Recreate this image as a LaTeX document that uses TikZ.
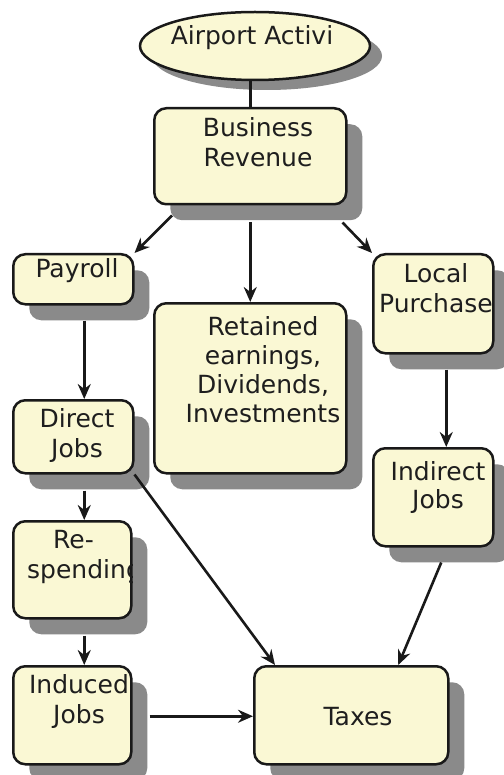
\documentclass[tikz,border=0pt]{standalone}
\usepackage{fontspec}
\setmainfont{DejaVu Sans}
\usetikzlibrary{shapes.geometric,shadows,arrows.meta,calc}
\definecolor{boxfill}{RGB}{250,248,212}
\definecolor{shadowgray}{RGB}{138,138,138}
\definecolor{edgecol}{RGB}{25,25,25}
\definecolor{textcol}{RGB}{30,30,30}
\begin{document}
\begin{tikzpicture}[x=1pt,y=-1pt,
  box/.style={draw=edgecol, line width=2.5pt, fill=boxfill, rounded corners=12pt,
    rectangle, anchor=north west, inner sep=0pt,
    drop shadow={shadow xshift=16pt, shadow yshift=-16pt, fill=shadowgray, opacity=1}},
  oval/.style={draw=edgecol, line width=2.5pt, fill=boxfill, ellipse, inner sep=0pt,
    drop shadow={shadow xshift=12pt, shadow yshift=-10pt, fill=shadowgray, opacity=1}},
  lbl/.style={font=\fontsize{25}{30}\selectfont, align=center, anchor=base,
    inner sep=0pt, text=textcol},
  conn/.style={draw=edgecol, line width=2.6pt},
  arr/.style={conn, -{Stealth[length=15pt,width=13pt,inset=5pt]}},
]
\useasboundingbox[fill=white] (0,0) rectangle (503,775);

% shapes
\node[oval, minimum width=230pt, minimum height=68pt] (act) at (255,46) {};
\node[box, minimum width=192pt, minimum height=96pt]  (br)  at (153,107) {};
\node[box, minimum width=120pt, minimum height=50pt]  (pay) at (12,253) {};
\node[box, minimum width=120pt, minimum height=73pt]  (dj)  at (12,399) {};
\node[box, minimum width=192pt, minimum height=170pt] (ret) at (153,302) {};
\node[box, minimum width=120pt, minimum height=99pt]  (lp)  at (372,253) {};
\node[box, minimum width=120pt, minimum height=98pt]  (ij)  at (372,447) {};
\node[box, minimum width=118pt, minimum height=97pt]  (rs)  at (12,520) {};
\node[box, minimum width=118pt, minimum height=98pt]  (ind) at (12,665) {};
\node[box, minimum width=194pt, minimum height=98pt]  (tax) at (253,665) {};

% texts (base anchor = baseline of the last line)
\node[lbl] (tact) at (252,45) {Airport Activi};
\node[lbl] (tbr)  at (258,167) {Business\\Revenue};
\node[lbl] (tpay) at (77,277) {Payroll};
\node[lbl] (tdj)  at (77,457) {Direct\\Jobs};
\node[lbl, font=\fontsize{25}{29}\selectfont] (tret) at (263,422) {Retained\\earnings,\\Dividends,\\Investments};
\node[lbl] (tlp)  at (436,312) {Local\\Purchase};
\node[lbl, font=\fontsize{25}{28}\selectfont] (tij)  at (438,508) {Indirect\\Jobs};
\begin{scope}
  \clip[rounded corners=12pt] (rs.north west) rectangle (rs.south east);
  \node[lbl, align=left, anchor=base west] (trs) at (27,578) {\hspace*{26pt}Re-\\spending};
\end{scope}
\node[lbl] (tind) at (79,723) {Induced\\Jobs};
\node[lbl] (ttax) at (358,725) {Taxes};

% connectors
\draw[conn] (br.north) -- (br.north |- act.south);
\draw[arr] ($(br.south west)+(19,10)$) -- (pay.north east);
\draw[arr] ($(br.south)+(0,17)$) -- (ret.north);
\draw[arr] ($(br.south east)+(-5,17)$) -- (lp.north west);
\draw[arr] ($(pay.south)+(11,15)$) -- ($(dj.north)+(11,0)$);
\draw[arr] ($(lp.south)+(13,15)$) -- ($(ij.north)+(13,0)$);
\draw[arr] ($(dj.south)+(11,16)$) -- ($(rs.north)+(12,0)$);
\draw[arr] ($(rs.south)+(12,16)$) -- ($(ind.north)+(12,0)$);
\draw[arr] ($(ind.east)+(17,1)$) -- ($(tax.west)+(0,1)$);
\draw[arr] (dj.south east) -- ($(tax.north west)+(22,0)$);
\draw[arr] ($(ij.south)+(8,15)$) -- ($(tax.north)+(47,0)$);
\end{tikzpicture}
\end{document}
